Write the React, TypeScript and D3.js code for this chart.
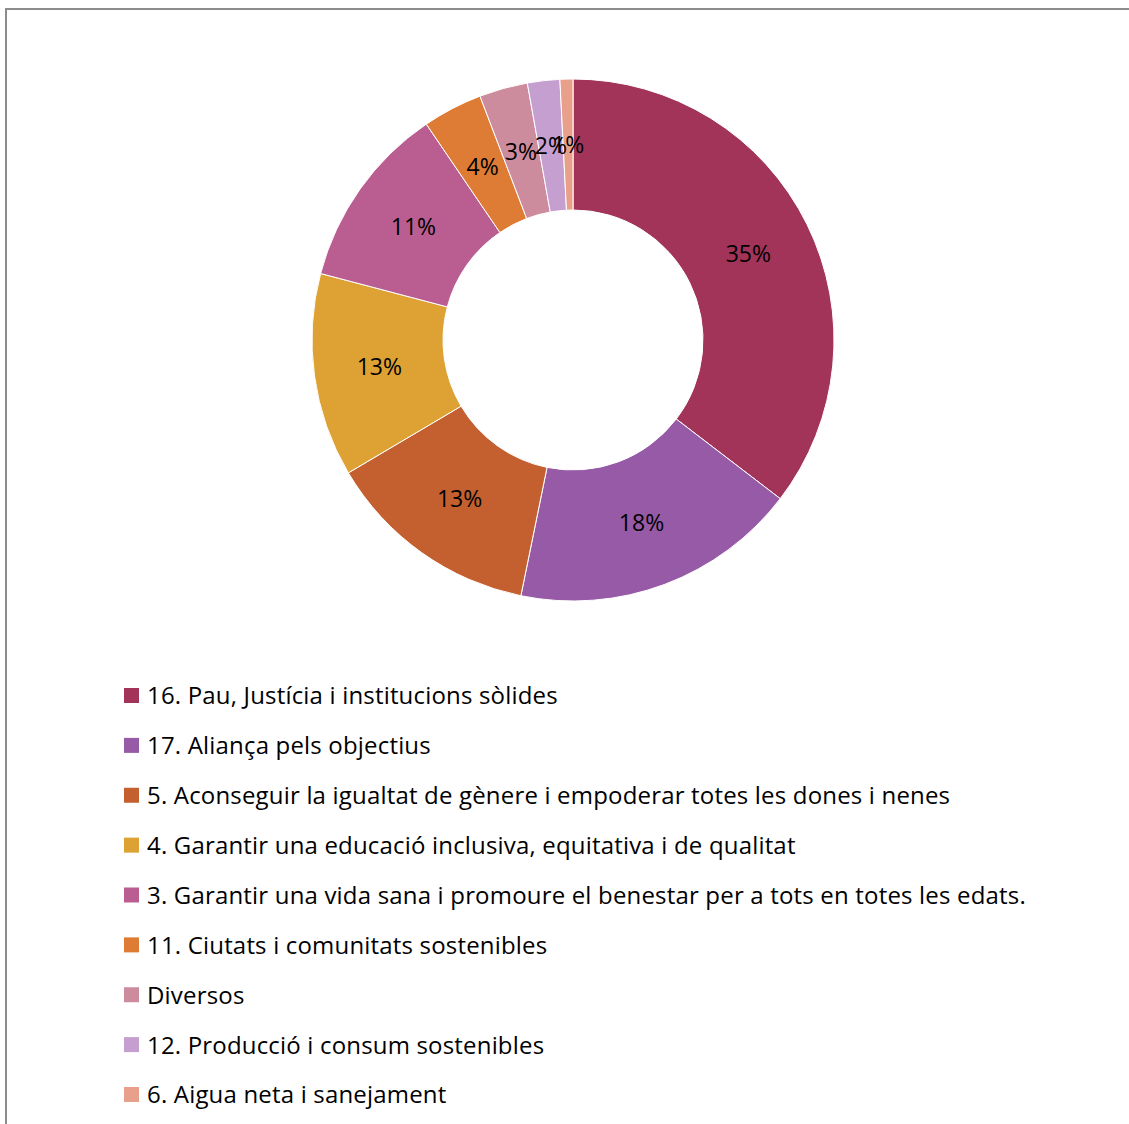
import React from 'react';
import * as d3 from 'd3';

const categories = [
  '16. Pau, Justícia i institucions sòlides',
  '17. Aliança pels objectius',
  '5. Aconseguir la igualtat de gènere i empoderar totes les dones i nenes',
  '4. Garantir una educació inclusiva, equitativa i de qualitat',
  '3. Garantir una vida sana i promoure el benestar per a tots en totes les edats.',
  '11. Ciutats i comunitats sostenibles',
  'Diversos',
  '12. Producció i consum sostenibles',
  '6. Aigua neta i sanejament',
];
// shares in percent, read from the slice boundaries
const values = [35.4, 17.8, 13.3, 12.6, 11.4, 3.7, 3.0, 2.0, 0.8];
const colors = ['#A2345A', '#975AA6', '#C46030', '#DDA233', '#BA5E92', '#DE7C35', '#CC8C9E', '#C49FD0', '#E8A08A'];

const FONT = '"Open Sans", Lato, sans-serif';

export default function App() {
  const width = 1129;
  const height = 1124;
  const cx = 573;
  const cy = 340;
  const outerR = 261;
  const innerR = 130;

  const data = categories.map((c, i) => ({ name: c, value: values[i], color: colors[i] }));
  const pie = d3.pie<typeof data[0]>().value(d => d.value).sort(null);
  const arcs = pie(data);
  const arc = d3.arc<d3.PieArcDatum<typeof data[0]>>().innerRadius(innerR).outerRadius(outerR);
  const total = d3.sum(values);

  const legendY = d3.scaleLinear().domain([0, categories.length - 1]).range([696, 1095]);

  return (
    <svg
      width={width}
      height={height}
      style={{ position: 'absolute', left: 0, top: 0, background: '#fff' }}
    >
      <rect x={6} y={9} width={1200} height={1200} fill="#fff" stroke="#8c8c8c" strokeWidth={2} />
      <g transform={`translate(${cx},${cy})`}>
        {arcs.map((a, i) => (
          <path key={i} d={arc(a) || ''} fill={a.data.color} stroke="#fff" strokeWidth={1} />
        ))}
        {arcs.map((a, i) => {
          const [x, y] = arc.centroid(a);
          return (
            <text
              key={i}
              x={x}
              y={y}
              dy="0.35em"
              textAnchor="middle"
              fontFamily={FONT}
              fontSize={23}
              fill="#000"
            >
              {`${Math.round((a.data.value / total) * 100)}%`}
            </text>
          );
        })}
      </g>
      <g>
        {data.map((d, i) => (
          <g key={i} transform={`translate(124,${legendY(i)})`}>
            <rect x={0} y={-8} width={15} height={15} fill={d.color} />
            <text
              x={23}
              y={0}
              dy="0.35em"
              fontFamily={FONT}
              fontSize={24}
              letterSpacing={0.18}
              fill="#000"
            >
              {d.name}
            </text>
          </g>
        ))}
      </g>
    </svg>
  );
}
